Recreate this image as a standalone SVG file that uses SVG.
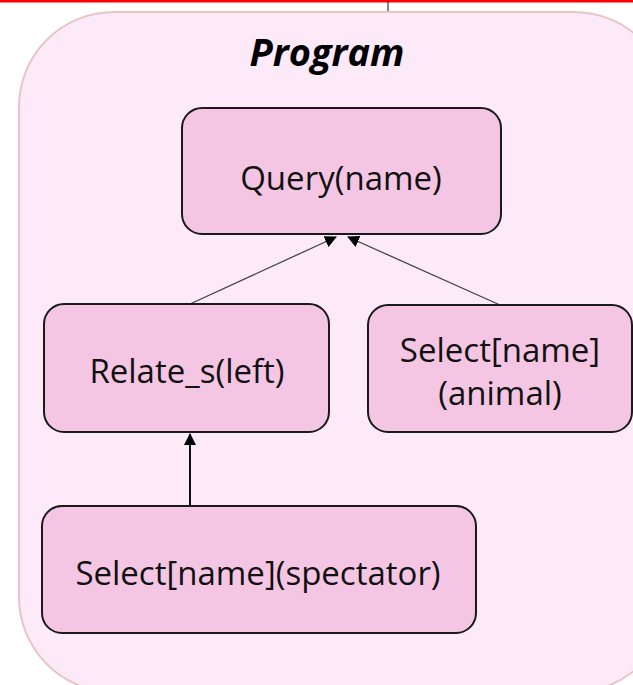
<svg xmlns="http://www.w3.org/2000/svg" width="633" height="685" viewBox="0 0 633 685">
<defs>
<style>
.node rect{fill:#f5c6e4;stroke:#1a1a1a;stroke-width:2}
.lbl{font-family:"Open Sans","Liberation Sans",sans-serif;font-size:33px;fill:#111;text-anchor:middle}
.title{font-family:"Open Sans","Liberation Sans",sans-serif;font-size:38px;font-weight:bold;font-style:italic;fill:#000;text-anchor:middle}
.edge{stroke:#444;stroke-width:1.3;fill:none}
.edge2{stroke:#111;stroke-width:2;fill:none}
</style>
<marker id="ah" markerWidth="12" markerHeight="12" refX="11" refY="6" orient="auto" markerUnits="userSpaceOnUse">
<path d="M0,0 L12,6 L0,12 Z" fill="#000"/>
</marker>
</defs>
<rect x="0" y="0" width="633" height="685" fill="#ffffff"/>
<rect x="0" y="0" width="633" height="2.5" fill="#ff0000"/>
<line x1="388" y1="2" x2="388" y2="16" stroke="#333" stroke-width="1.2"/>
<g id="program">
<rect x="19" y="12" width="650" height="680" rx="95" ry="95" fill="#fdeaf9" stroke="#e8c4c4" stroke-width="2"/>
<text class="title" x="327" y="66">Program</text>
</g>
<g id="connectors">
<line class="edge" x1="190" y1="304" x2="336" y2="237" marker-end="url(#ah)"/>
<line class="edge" x1="500" y1="305" x2="348" y2="237" marker-end="url(#ah)"/>
<line class="edge2" x1="190" y1="506" x2="190" y2="434" marker-end="url(#ah)"/>
</g>
<g id="query" class="node">
<rect x="182" y="108" width="319" height="126" rx="20"/>
<text class="lbl" x="341" y="190">Query(name)</text>
</g>
<g id="relate" class="node">
<rect x="44" y="304" width="285" height="128" rx="20"/>
<text class="lbl" x="187" y="383">Relate_s(left)</text>
</g>
<g id="select_animal" class="node">
<rect x="368" y="305" width="264" height="127" rx="20"/>
<text class="lbl" x="500" y="362">Select[name]</text>
<text class="lbl" x="500" y="405">(animal)</text>
</g>
<g id="select_spectator" class="node">
<rect x="42" y="506" width="434" height="127" rx="20"/>
<text class="lbl" x="258" y="585">Select[name](spectator)</text>
</g>
</svg>
